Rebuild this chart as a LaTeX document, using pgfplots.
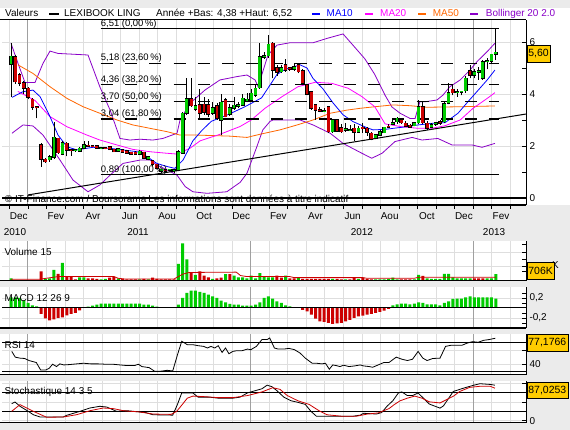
\documentclass[border=0pt]{standalone}
\usepackage{fontspec}
\setmainfont{Liberation Sans}
\usepackage{pgfplots}
\usepackage{pgfplotstable}
\pgfplotsset{compat=1.18}

\definecolor{bgc}{HTML}{EBEBEB}
\definecolor{gridc}{HTML}{DEDEDE}
\definecolor{yearc}{HTML}{A0A0A0}
\definecolor{cgreen}{HTML}{00CC00}
\definecolor{cred}{HTML}{CC0000}
\definecolor{cma10}{HTML}{0000FF}
\definecolor{cma20}{HTML}{FF00FF}
\definecolor{cma50}{HTML}{FF6600}
\definecolor{cboll}{HTML}{8A00C8}
\definecolor{boxc}{HTML}{FFCC00}

\newcommand{\fs}{\fontsize{10}{12}\selectfont}
\newcommand{\fsb}{\fontsize{9.5}{11}\selectfont}

\pgfplotstableread{
i o h l c
0 5.15 5.95 3.90 5.45
1 5.44 5.50 4.40 4.47
2 4.73 4.80 4.30 4.41
3 4.44 4.50 4.00 4.22
4 4.22 4.25 3.80 3.87
5 3.79 3.85 3.40 3.49
6 3.50 3.52 3.06 3.47
7 2.04 2.10 1.20 1.49
8 1.49 1.55 1.35 1.40
9 1.47 1.65 1.40 1.59
10 1.56 2.94 1.50 2.33
11 2.29 2.32 1.70 1.74
12 1.69 2.20 1.65 2.13
13 2.10 2.15 1.60 1.85
14 1.85 1.88 1.62 1.83
15 1.82 1.90 1.78 1.86
16 1.81 1.95 1.79 1.91
17 1.91 2.20 1.90 2.04
18 2.02 2.18 1.98 2.00
19 2.00 2.05 1.95 1.98
20 2.00 2.02 1.90 1.91
21 1.92 1.95 1.88 1.93
22 1.93 1.96 1.88 1.90
23 1.97 2.00 1.85 1.87
24 1.87 1.90 1.78 1.78
25 1.80 1.92 1.78 1.88
26 1.86 1.90 1.76 1.77
27 1.82 1.85 1.70 1.72
28 1.76 1.78 1.66 1.68
29 1.76 1.80 1.66 1.68
30 1.69 1.85 1.67 1.80
31 1.76 1.78 1.50 1.53
32 1.49 1.62 1.45 1.59
33 1.42 1.45 1.25 1.29
34 1.29 1.32 1.10 1.14
35 1.04 1.12 0.95 1.10
36 1.08 1.12 1.00 1.04
37 1.06 1.12 1.02 1.10
38 1.05 1.12 0.98 1.08
39 1.08 1.85 1.02 1.78
40 1.72 3.30 1.70 3.26
41 3.26 4.60 3.20 3.81
42 3.81 4.60 3.50 3.55
43 3.42 3.90 3.35 3.54
44 3.58 4.20 3.05 3.26
45 3.60 3.90 3.20 3.30
46 3.58 3.80 3.10 3.22
47 3.26 3.70 3.20 3.47
48 3.54 3.65 3.00 3.06
49 3.00 4.00 2.42 3.68
50 3.77 3.85 3.10 3.13
51 3.22 3.60 3.15 3.47
52 3.45 3.90 3.40 3.56
53 3.52 3.70 3.45 3.58
54 3.58 4.00 3.55 3.83
55 3.72 4.05 3.68 3.80
56 3.77 4.20 3.72 4.03
57 3.96 4.35 3.90 4.22
58 4.24 5.95 4.20 5.44
59 5.41 5.60 5.35 5.47
60 5.47 6.27 5.40 5.91
61 5.95 6.00 4.60 4.92
62 5.01 5.10 4.70 4.83
63 4.86 5.10 4.80 5.01
64 5.12 5.35 4.85 4.92
65 5.00 5.05 4.90 4.95
66 4.95 5.20 4.90 5.05
67 5.12 5.18 4.80 4.86
68 4.88 4.95 4.35 4.41
69 4.35 4.40 3.95 3.99
70 4.09 4.12 3.40 3.45
71 3.58 3.62 3.00 3.38
72 3.38 3.50 3.30 3.35
73 3.35 3.45 3.30 3.36
74 3.51 3.55 2.50 2.55
75 2.55 3.05 2.50 3.00
76 3.00 3.05 2.55 2.58
77 2.70 2.85 2.50 2.55
78 2.62 2.90 2.55 2.66
79 2.60 2.80 2.58 2.62
80 2.68 2.85 2.20 2.53
81 2.53 2.75 2.50 2.68
82 2.72 2.90 2.50 2.66
83 2.68 2.72 2.40 2.53
84 2.49 2.55 2.22 2.27
85 2.29 2.45 2.25 2.42
86 2.42 2.60 2.40 2.55
87 2.51 2.72 2.50 2.72
88 2.76 2.85 2.70 2.72
89 2.85 3.00 2.80 2.88
90 2.94 3.10 2.85 3.06
91 3.00 3.05 2.85 2.90
92 2.87 2.95 2.75 2.77
93 2.80 2.85 2.70 2.73
94 2.78 2.92 2.75 2.88
95 2.90 3.77 2.85 3.51
96 3.51 3.70 2.85 2.90
97 2.87 2.95 2.62 2.68
98 2.72 2.90 2.68 2.82
99 2.83 2.92 2.78 2.90
100 2.92 3.00 2.82 2.88
101 2.94 3.70 2.90 3.62
102 3.64 4.41 3.60 4.05
103 4.18 4.35 3.95 4.05
104 4.05 4.20 3.90 4.08
105 4.08 4.12 3.95 4.10
106 4.13 4.70 4.05 4.60
107 4.90 5.10 4.60 4.73
108 4.73 4.95 4.60 4.85
109 4.85 5.05 4.55 4.88
110 4.60 5.30 4.55 5.24
111 5.24 5.40 4.95 5.28
112 5.27 5.55 5.15 5.53
113 5.54 6.51 5.30 5.60
}\candles

\pgfplotstableread{
i v u
0 260 1
7 1000 0
8 185 1
9 260 1
10 1180 1
11 740 0
12 1920 1
13 440 0
14 440 0
15 150 0
16 370 1
17 370 1
18 260 0
19 260 0
20 185 0
21 150 1
22 185 1
23 330 0
24 440 0
25 260 1
26 185 0
27 150 0
28 150 0
29 150 0
30 150 1
31 185 0
32 150 1
33 330 0
34 185 0
35 150 0
36 150 0
37 150 0
38 150 0
39 1810 1
40 4030 1
41 2290 1
42 925 0
43 630 1
44 1000 0
45 555 0
46 370 0
47 185 1
48 260 0
49 330 0
50 700 1
51 700 0
52 555 1
53 370 1
54 370 1
55 260 1
56 555 1
57 260 1
58 815 1
59 440 1
60 370 1
61 370 1
62 555 0
63 330 0
64 555 1
65 260 0
66 260 0
67 330 1
68 185 0
69 185 0
70 185 0
71 185 0
72 185 0
73 185 0
74 185 0
75 185 1
76 185 0
77 150 0
78 150 1
79 150 0
80 330 0
81 185 1
82 330 0
83 185 0
84 150 0
85 150 1
86 150 1
87 150 1
88 185 1
89 330 1
90 150 1
91 150 0
92 150 0
93 150 0
94 150 1
95 630 1
96 520 0
97 260 1
98 185 1
99 185 1
100 185 1
101 740 1
102 740 1
103 370 1
104 260 1
105 260 1
106 260 1
107 260 1
108 260 0
109 260 0
110 260 0
111 260 1
112 260 1
113 706 1
}\volume

\pgfplotstableread{
i m
0 0.21
1 0.21
2 0.20
3 0.15
4 0.10
5 0.05
6 0.03
7 -0.12
8 -0.21
9 -0.25
10 -0.23
11 -0.2
12 -0.19
13 -0.15
14 -0.12
15 -0.10
16 -0.05
18 0.027
19 0.047
20 0.067
21 0.087
22 0.087
23 0.087
24 0.087
25 0.087
26 0.087
27 0.087
28 0.087
29 0.087
30 0.087
31 0.067
32 0.067
33 0.047
34 0.027
39 0.067
40 0.2
41 0.3
42 0.347
43 0.347
44 0.32
45 0.3
46 0.267
47 0.233
48 0.2
49 0.147
50 0.113
51 0.08
52 0.067
53 0.067
54 0.047
55 0.047
56 0.047
57 0.067
58 0.113
59 0.2
60 0.233
61 0.187
62 0.133
63 0.1
64 0.053
65 0.033
68 -0.04
69 -0.067
70 -0.133
71 -0.213
72 -0.267
73 -0.28
74 -0.3
75 -0.32
76 -0.307
77 -0.3
78 -0.267
79 -0.24
80 -0.2
81 -0.167
82 -0.153
83 -0.133
84 -0.12
85 -0.1
86 -0.08
87 -0.053
88 -0.02
89 0.053
90 0.073
91 0.087
92 0.087
93 0.073
94 0.087
95 0.113
96 0.1
97 0.073
98 0.073
99 0.073
100 0.053
101 0.1
102 0.133
103 0.18
104 0.187
105 0.187
106 0.213
107 0.233
108 0.213
109 0.213
110 0.213
111 0.213
112 0.213
113 0.187
}\macd

\pgfplotsset{
  panel/.style={
    scale only axis, width=524bp, clip=false,
    xmin=-2.1, xmax=120.05,
    axis line style={draw=none},
    xtick={-0.364,8.284,12.608,16.932,21.256,25.58,29.904,34.228,38.552,42.876,47.2,51.524,60.172,64.496,68.82,73.144,77.468,81.792,86.116,90.44,94.764,99.088,103.412,112.06,116.384},
    xticklabels={},
    extra x ticks={3.96,55.848,107.736}, extra x tick labels={},
    extra x tick style={major grid style={yearc, line width=1bp}},
    xtick pos=lower, ytick pos=upper, yticklabel pos=upper,
    tick align=inside,
    major tick length=4bp, minor tick length=4bp,
    tick style={black, line width=0.7bp},
    xmajorgrids=true, ymajorgrids=true,
    major grid style={gridc, line width=0.7bp},
    every tick label/.append style={font=\fs},
    /pgf/number format/assume math mode=true,
  },
  candle/.style={only marks, mark=*, mark size=0pt, mark options={draw=none, fill=none}, forget plot,
    error bars/y dir=plus, error bars/y explicit, error bars/error mark=none},
}

\begin{document}
\begin{tikzpicture}
\fill[bgc] (0,0) rectangle (570bp,430bp);
\fill[white] (0,225bp) rectangle (570bp,422bp);
\fill[white] (0,149.3bp) rectangle (526bp,189.3bp);
\fill[white] (0,102bp) rectangle (526bp,142.7bp);
\fill[white] (0,55.3bp) rectangle (526bp,96bp);
\fill[white] (0,7.5bp) rectangle (526bp,48.7bp);

% ---------------- main price panel ----------------
\begin{axis}[panel, at={(2bp,225bp)}, anchor=south west, height=185bp,
  ymin=-0.269, ymax=6.846,
  ytick={0,2,4,6}, minor ytick={1,3,5},
  x tick style={yshift=-4bp},
]
\addplot[cboll, line width=0.8bp] coordinates {(0,5.95) (1.63,5.18) (3.26,4.44) (5.59,4.44) (7.46,5.18) (9.09,5.65) (10.96,5.56) (17.95,5.5) (20.7,4.28) (23.1,3.38) (25.4,2.29) (27.7,2.23) (30.1,2.26) (33.1,2.23) (35.4,2.29) (38.7,2.49) (39.4,3.0) (41.7,3.64) (45.2,4.15) (48.7,4.54) (52.7,4.67) (55.0,4.73) (56.9,4.54) (57.6,4.28) (59.9,5.5) (62.0,5.88) (65.0,5.97) (70.4,5.97) (73.7,6.14) (77.4,6.31) (79.7,5.88) (82.5,5.35) (84.8,4.75) (87.2,3.95) (88.8,3.5) (90.7,3.26) (93.0,3.06) (94.2,3.06) (95.3,3.7) (96.5,3.7) (99.3,3.77) (100.7,3.96) (102.3,4.28) (104.7,4.54) (107.0,4.92) (108.6,5.24) (111.0,5.63) (112.8,5.95)};
\addplot[cboll, line width=0.8bp] coordinates {(0.23,2.49) (2.8,2.81) (5.13,2.77) (7.46,2.42) (11.42,1.46) (14.45,0.69) (17.95,0.24) (20.7,0.5) (23.1,0.88) (26.1,1.33) (30.1,1.46) (32.4,1.46) (34.0,1.27) (36.4,1.08) (38.7,0.88) (40.6,0.44) (42.4,0.24) (45.7,0.18) (50.3,0.24) (53.4,0.6) (55.0,0.95) (57.3,1.97) (58.7,2.62) (60.4,2.95) (61.1,3.0) (67.4,3.0) (70.4,2.81) (74.4,2.49) (77.4,2.1) (81.8,1.72) (84.1,1.53) (86.5,1.72) (89.5,2.17) (93.5,2.33) (95.8,2.23) (99.5,2.29) (102.8,2.04) (107.5,2.04) (109.8,1.95) (112.8,2.1)};
\addplot[cma50, line width=0.8bp] coordinates {(1.63,5.12) (5.13,4.79) (9.09,4.28) (13.05,3.83) (16.8,3.51) (20.7,3.26) (24.7,3.0) (28.4,2.81) (32.4,2.68) (36.4,2.55) (39.4,2.42) (43.4,2.42) (47.1,2.4) (51.0,2.38) (55.0,2.33) (58.0,2.45) (62.7,2.62) (66.7,2.81) (70.4,3.0) (74.4,3.26) (78.3,3.38) (81.4,3.45) (84.8,3.51) (89.0,3.58) (93.0,3.55) (97.0,3.49) (104.7,3.51) (112.8,3.54)};
\addplot[cma20, line width=0.8bp] coordinates {(1.6,4.1) (5.6,3.75) (9.09,3.13) (13.05,2.74) (17.7,2.42) (20.7,2.23) (24.7,2.04) (28.4,1.87) (32.4,1.78) (36.4,1.72) (38.7,1.69) (41.7,1.91) (44.1,2.2) (48.7,2.45) (53.4,2.75) (56.0,3.0) (59.2,3.45) (63.2,3.9) (66.9,4.28) (70.9,4.45) (74.8,4.41) (78.6,4.22) (81.8,3.9) (84.8,3.51) (87.2,2.85) (91.1,2.74) (94.9,2.68) (98.1,2.68) (101.2,2.78) (104.7,3.0) (107.7,3.45) (111.0,3.83) (112.8,4.05)};
\addplot[cma10, line width=0.8bp] coordinates {(0.23,3.87) (2.8,4.09) (5.13,4.15) (6.76,3.9) (9.09,3.13) (10.96,2.42) (13.05,1.97) (15.38,1.85) (19.1,1.95) (23.1,1.91) (26.1,1.85) (29.4,1.78) (31.7,1.59) (34.0,1.33) (36.4,1.21) (38.2,1.14) (40.1,1.46) (41.7,1.97) (42.4,2.2) (44.5,2.6) (46.7,2.95) (50.5,3.2) (54.4,3.5) (58.4,3.85) (60.4,4.35) (62.0,4.75) (63.9,4.95) (67.4,5.12) (69.0,5.0) (70.4,4.6) (72.7,4.2) (75.1,3.65) (77.4,3.2) (79.7,2.94) (83.0,2.7) (84.4,2.62) (87.2,2.64) (91.1,2.72) (94.9,2.81) (98.1,2.87) (101.2,2.9) (104.2,3.26) (106.5,3.7) (108.6,4.09) (111.0,4.54) (112.8,4.92)};
\addplot[black, line width=1.2bp] coordinates {(20.9,6.51) (113.75,6.51)};
\addplot[black, line width=1.2bp, dash pattern=on 12.2bp off 12.1bp] coordinates {(20.9,5.18) (113.75,5.18)};
\addplot[black, line width=1.2bp, dash pattern=on 12.2bp off 12.1bp] coordinates {(20.9,4.36) (113.75,4.36)};
\addplot[black, line width=1.2bp, dash pattern=on 12.2bp off 12.1bp] coordinates {(20.9,3.70) (113.75,3.70)};
\addplot[black, line width=1.2bp, dash pattern=on 12.2bp off 12.1bp] coordinates {(20.9,3.04) (113.75,3.04)};
\addplot[black, line width=1.2bp] coordinates {(20.9,0.89) (113.75,0.89)};
\addplot[black, line width=1bp] coordinates {(4,0.12) (120.05,3.23)};
\addplot[black, line width=1.2bp] coordinates {(-2.1,0) (120.05,0)};
% candles
\addplot[candle, error bars/error bar style={draw=black, line width=0.8bp}]
  table[x=i, y=l, y error expr={\thisrow{h}-\thisrow{l}}] {\candles};
\addplot[candle, error bars/error bar style={draw=black, line width=3.8bp}]
  table[x=i, y expr={min(\thisrow{o},\thisrow{c})-0.025}, y error expr={abs(\thisrow{c}-\thisrow{o})+0.05}] {\candles};
\addplot[candle, restrict expr to domain={\thisrow{c}-\thisrow{o}}{0:100}, error bars/error bar style={draw=cgreen, line width=2.8bp}]
  table[x=i, y expr={min(\thisrow{o},\thisrow{c})}, y error expr={abs(\thisrow{c}-\thisrow{o})}] {\candles};
\addplot[candle, restrict expr to domain={\thisrow{c}-\thisrow{o}}{-100:0}, error bars/error bar style={draw=cred, line width=2.8bp}]
  table[x=i, y expr={min(\thisrow{o},\thisrow{c})}, y error expr={abs(\thisrow{c}-\thisrow{o})}] {\candles};
\node[anchor=base west, font=\fsb, inner sep=0pt, yshift=2.5bp] at (axis cs:20.9,6.51) {6,51 (0,00\,\%)};
\node[anchor=base west, font=\fsb, inner sep=0pt, yshift=2.5bp] at (axis cs:20.9,5.18) {5,18 (23,60\,\%)};
\node[anchor=base west, font=\fsb, inner sep=0pt, yshift=2.5bp] at (axis cs:20.9,4.36) {4,36 (38,20\,\%)};
\node[anchor=base west, font=\fsb, inner sep=0pt, yshift=2.5bp] at (axis cs:20.9,3.70) {3,70 (50,00\,\%)};
\node[anchor=base west, font=\fsb, inner sep=0pt, yshift=2.5bp] at (axis cs:20.9,3.04) {3,04 (61,80\,\%)};
\node[anchor=base west, font=\fsb, inner sep=0pt, yshift=2.5bp] at (axis cs:20.9,0.89) {0,89 (100,00\,\%)};
\node[anchor=base west, font=\fs, inner sep=0pt] at (axis cs:-1.45,-0.154) {© IT-Finance.com / Boursorama};
\node[anchor=base west, font=\fs, inner sep=0pt] at (axis cs:32.0,-0.154) {Les informations sont données à titre indicatif};
\node[font=\fs] at (axis cs:1.8,-0.69) {Dec};
\node[font=\fs] at (axis cs:10.45,-0.69) {Fev};
\node[font=\fs] at (axis cs:19.1,-0.69) {Avr};
\node[font=\fs] at (axis cs:27.74,-0.69) {Jun};
\node[font=\fs] at (axis cs:36.39,-0.69) {Aou};
\node[font=\fs] at (axis cs:45.04,-0.69) {Oct};
\node[font=\fs] at (axis cs:53.69,-0.69) {Dec};
\node[font=\fs] at (axis cs:62.33,-0.69) {Fev};
\node[font=\fs] at (axis cs:70.98,-0.69) {Avr};
\node[font=\fs] at (axis cs:79.63,-0.69) {Jun};
\node[font=\fs] at (axis cs:88.28,-0.69) {Aou};
\node[font=\fs] at (axis cs:96.93,-0.69) {Oct};
\node[font=\fs] at (axis cs:105.57,-0.69) {Dec};
\node[font=\fs] at (axis cs:114.22,-0.69) {Fev};
\node[font=\fs] at (axis cs:0.93,-1.31) {2010};
\node[font=\fs] at (axis cs:29.6,-1.31) {2011};
\node[font=\fs] at (axis cs:81.8,-1.31) {2012};
\node[font=\fs] at (axis cs:112.6,-1.31) {2013};
\draw[black, line width=1.5bp] (rel axis cs:-0.004,0) -- (rel axis cs:1,0);
\draw[black, line width=1bp] (rel axis cs:-0.004,1) -- (rel axis cs:1,1);
\draw[black, line width=1bp] (rel axis cs:1,0) -- (rel axis cs:1,1);
\end{axis}

% ---------------- volume ----------------
\begin{axis}[panel, at={(2bp,149.3bp)}, anchor=south west, height=40bp,
  ymin=0, ymax=4320, ytick={1555,3100}, yticklabels={}, minor ytick={1015,2268,3964},
  x tick style={draw=none},
]
\addplot[ybar, bar width=3bp, bar shift=0bp, fill=cgreen, draw=none, forget plot,
  restrict expr to domain={\thisrow{u}}{0.5:1.5}] table[x=i, y=v] {\volume};
\addplot[ybar, bar width=3bp, bar shift=0bp, fill=cred, draw=none, forget plot,
  restrict expr to domain={\thisrow{u}}{-0.5:0.5}] table[x=i, y=v] {\volume};
\addplot[cred, line width=0.8bp] coordinates {(0,150) (6.5,150) (11,445) (24,445) (25,260) (26.5,185) (38,185) (40,700) (41.5,890) (52.5,925) (53.5,555) (55,445) (65,445) (66,333) (82,333) (83,260) (94,260) (95,370) (101,370) (113,370)};
\node[anchor=west, font=\fs, inner sep=0pt] at (axis cs:-1.55,3132) {Volume 15};
\draw[black, line width=1.5bp] (rel axis cs:-0.004,0) -- (rel axis cs:1,0);
\draw[black, line width=1bp] (rel axis cs:1,0) -- (rel axis cs:1,1);
\end{axis}

% ---------------- MACD ----------------
\begin{axis}[panel, at={(2bp,102bp)}, anchor=south west, height=40.7bp,
  ymin=-0.4, ymax=0.414, ytick={-0.2,0.2}, yticklabels={{-0,2},{0,2}},
  minor ytick={-0.3,-0.1,0.1,0.3},
  x tick style={draw=none},
]
\addplot[ybar, bar width=3bp, bar shift=0bp, fill=cgreen, draw=none, forget plot,
  restrict expr to domain={\thisrow{m}}{0:1}] table[x=i, y=m] {\macd};
\addplot[ybar, bar width=3bp, bar shift=0bp, fill=cred, draw=none, forget plot,
  restrict expr to domain={\thisrow{m}}{-1:0}] table[x=i, y=m] {\macd};
\addplot[black, line width=1bp] coordinates {(-2.1,0) (120.05,0)};
\node[anchor=west, font=\fs, inner sep=0pt] at (axis cs:-1.55,0.2) {MACD 12 26 9};
\draw[black, line width=1.5bp] (rel axis cs:-0.004,0) -- (rel axis cs:1,0);
\draw[black, line width=1bp] (rel axis cs:1,0) -- (rel axis cs:1,1);
\end{axis}

% ---------------- RSI ----------------
\begin{axis}[panel, at={(2bp,55.3bp)}, anchor=south west, height=40.7bp,
  ymin=25.2, ymax=82.7, ytick={40,60}, yticklabels={40,{}},
  x tick style={draw=none},
]
\addplot[black, line width=1bp] coordinates {(-2.1,70) (120.05,70)};
\addplot[black, line width=1bp] coordinates {(-2.1,30) (120.05,30)};
\addplot[black, line width=0.8bp] coordinates {(0.17,58.1) (1.0,50.0) (2.1,48.6) (3.2,48.1) (4.2,45.2) (5.9,42.4) (6.9,31.9) (8.1,31.9) (8.9,34.3) (9.7,40.0) (10.6,36.7) (11.4,40.5) (12.3,39.0) (13.6,39.5) (15.3,40.5) (16.9,41.4) (18.6,40.5) (20.3,40.5) (22.0,40.0) (23.7,40.0) (25.4,39.0) (27.1,38.1) (28.8,38.1) (29.7,40.0) (30.5,36.7) (32.2,35.2) (33.5,30.0) (34.7,30.0) (36.4,31.4) (37.7,30.5) (38.8,53.3) (39.8,72.4) (41.1,67.6) (42.4,67.6) (43.6,66.2) (44.9,65.2) (45.8,62.9) (46.6,65.2) (47.5,62.9) (48.3,66.2) (49.2,56.7) (50.0,62.9) (50.8,54.8) (51.7,58.1) (52.5,59.0) (53.8,59.0) (55.1,61.4) (55.9,60.5) (57.2,65.2) (58.5,74.8) (59.7,74.8) (60.3,77.1) (61.4,62.9) (62.3,61.4) (63.6,61.4) (64.8,62.4) (66.1,60.5) (67.4,55.7) (68.6,48.6) (70.2,41.4) (71.2,41.4) (72.5,40.5) (73.3,41.4) (74.2,32.9) (75.0,39.0) (75.8,38.1) (76.7,36.7) (77.5,38.6) (78.8,36.7) (80.1,37.6) (81.4,39.0) (82.2,37.6) (83.5,36.7) (84.3,35.7) (85.6,39.0) (86.9,42.4) (88.1,42.4) (89.8,50.0) (91.1,47.1) (92.4,45.2) (93.6,47.1) (94.9,58.1) (96.0,48.6) (97.0,45.2) (98.3,48.1) (100.0,48.6) (101.3,65.2) (102.5,66.7) (103.8,66.7) (105.1,66.7) (106.4,70.0) (107.6,71.9) (108.9,71.0) (110.2,73.8) (111.4,74.8) (112.9,76.7)};
\node[anchor=west, font=\fs, inner sep=0pt] at (axis cs:-1.55,67.6) {RSI 14};
\draw[black, line width=1.5bp] (rel axis cs:-0.004,0) -- (rel axis cs:1,0);
\draw[black, line width=1bp] (rel axis cs:1,0) -- (rel axis cs:1,1);
\end{axis}

% ---------------- Stochastic ----------------
\begin{axis}[panel, at={(2bp,7.5bp)}, anchor=south west, height=41.2bp,
  ymin=-4.9, ymax=106.5, ytick={0,50,100}, yticklabels={0,{},{}},
  x tick style={draw=none},
]
\addplot[black, line width=1bp] coordinates {(-2.1,75) (120.05,75)};
\addplot[black, line width=1bp] coordinates {(-2.1,25) (120.05,25)};
\addplot[black, line width=0.8bp] coordinates {(0.16,46) (0.93,50.5) (2.1,38.9) (4.0,25.4) (5.2,16.2) (6.8,10) (12.2,10) (13.0,14.6) (16.1,25.4) (18.4,34.3) (20.7,38.9) (22.3,37) (24.6,25.4) (27.0,27) (29.7,24) (31.4,22) (33.1,16) (37.7,15) (38.8,44) (39.8,75) (42.4,75) (43.6,63.7) (46.2,63.7) (48.3,60.9) (51.7,60.9) (53.4,63.7) (55.1,75) (56.8,80.7) (58.5,86.3) (59.7,96) (60.8,92) (61.9,82) (63.6,63.7) (65.3,53.8) (66.9,49.6) (68.6,44) (69.9,25.5) (71.2,12) (79.7,12) (81.4,15) (82.2,20) (85.2,18) (86.4,22) (87.7,39.7) (89.0,53.8) (90.3,75) (91.1,77.8) (92.4,67.9) (93.6,67.9) (94.9,75) (96.2,60) (97.5,45) (100.0,34) (100.8,40) (103.1,79) (105.5,88) (107.8,95.7) (109.3,100) (111.7,98) (112.8,96)};
\addplot[cred, line width=0.8bp] coordinates {(0.16,25.4) (2.1,43.5) (5.2,25.4) (8.3,9.3) (12.2,10) (15.3,16.2) (18.4,27) (21.5,34.3) (23.9,32.5) (26.2,27) (27.7,25.4) (29.7,24) (33.1,18) (37.3,17) (38.6,25) (39.8,42) (41.1,60.9) (42.4,66.5) (44.9,65.1) (48.3,62.3) (51.7,62.3) (55.1,67.9) (58.5,77.8) (61.0,89.1) (62.7,84.8) (64.4,67.9) (66.9,53.8) (69.5,44) (72.0,25.5) (73.7,16) (77.1,12) (80.5,12) (83.1,18) (85.6,21) (88.1,32.6) (89.4,44) (90.7,53.8) (92.4,60.9) (94.1,66.5) (95.8,60.9) (97.5,51) (100.0,48) (103.1,66) (104.6,79) (106.9,90) (109.3,93) (111.7,93) (112.8,88)};
\node[anchor=west, font=\fs, inner sep=0pt] at (axis cs:-1.55,77.6) {Stochastique 14 3 5};
\draw[black, line width=1.5bp] (rel axis cs:-0.004,0) -- (rel axis cs:1,0);
\draw[black, line width=1bp] (rel axis cs:1,0) -- (rel axis cs:1,1);
\end{axis}

% ---------------- header legend ----------------
\node[anchor=base west, font=\fs, inner sep=0pt] at (5bp,413.5bp) {Valeurs};
\fill[black] (49.3bp,414.6bp) rectangle (59.3bp,417.4bp);
\node[anchor=base west, font=\fs, inner sep=0pt] at (64bp,413.5bp) {LEXIBOOK LING};
\node[anchor=base west, font=\fs, inner sep=0pt] at (156bp,413.5bp) {Année +Bas: 4,38 +Haut: 6,52};
\fill[cma10] (311.7bp,414.6bp) rectangle (320bp,417.4bp);
\node[anchor=base west, font=\fs, inner sep=0pt, text=cma10] at (326.5bp,413.5bp) {MA10};
\fill[cma20] (365bp,414.6bp) rectangle (373.3bp,417.4bp);
\node[anchor=base west, font=\fs, inner sep=0pt, text=cma20] at (380bp,413.5bp) {MA20};
\fill[cma50] (417.7bp,414.6bp) rectangle (425.7bp,417.4bp);
\node[anchor=base west, font=\fs, inner sep=0pt, text=cma50] at (432.7bp,413.5bp) {MA50};
\fill[cboll] (470bp,414.6bp) rectangle (478.3bp,417.4bp);
\node[anchor=base west, font=\fs, inner sep=0pt, text=cboll] at (485.7bp,413.5bp) {Bollinger 20 2.0};

% ---------------- value boxes ----------------
\node[anchor=west, font=\fs, inner sep=0pt] at (552bp,165bp) {K};
\node[draw=black, fill=boxc, font=\fontsize{10.5}{12}\selectfont, inner sep=1.5bp, minimum height=17.5bp, anchor=west] at (526.7bp,376.2bp) {5,60};
\node[draw=black, fill=boxc, font=\fontsize{10.5}{12}\selectfont, inner sep=1.5bp, minimum height=17.4bp, anchor=west] at (526.7bp,159bp) {706K};
\node[draw=black, fill=boxc, font=\fontsize{10.5}{12}\selectfont, inner sep=1.5bp, minimum height=16.6bp, anchor=west] at (526.7bp,87bp) {77,1766};
\node[draw=black, fill=boxc, font=\fontsize{10.5}{12}\selectfont, inner sep=1.5bp, minimum height=16.7bp, anchor=west] at (526.7bp,39.7bp) {87,0253};

\pgfresetboundingbox
\path[use as bounding box] (0,0) rectangle (570bp,430bp);
\end{tikzpicture}
\end{document}
